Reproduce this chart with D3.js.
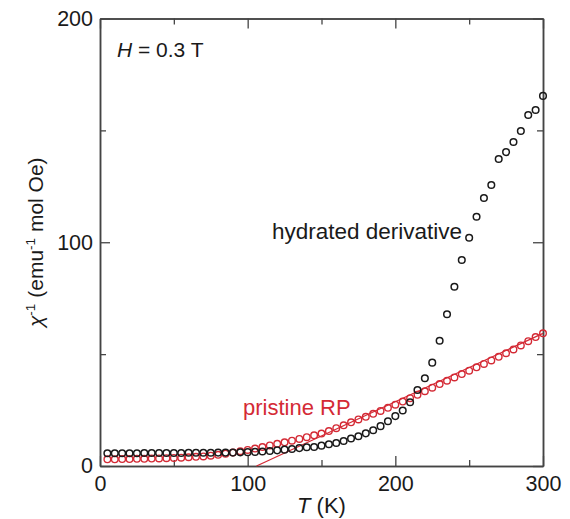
<!DOCTYPE html>
<html><head><meta charset="utf-8">
<script src="https://cdn.jsdelivr.net/npm/d3@7"></script>
<style>
html,body{margin:0;padding:0;background:#fff;}
svg{display:block;font-family:"Liberation Sans",Arial,sans-serif;}
</style></head>
<body><svg id="c" width="570" height="519"></svg>
<script>
// Temperatures (K)
const temps = d3.range(5, 301, 5);
// hydrated derivative chi^-1
const hydrated = [5.7,5.7,5.7,5.7,5.7,5.8,5.8,5.8,5.8,5.8,5.8,5.9,5.9,5.9,5.9,6.0,6.0,6.0,6.1,
  6.2,6.3,6.5,6.7,7.0,7.3,7.6,8.0,8.4,8.5,9.1,9.7,10.3,11.2,12.3,13.3,14.6,16.0,17.8,20.0,22.3,
  24.8,28.5,34.0,39.2,46.2,56.0,67.8,80.1,92.1,102.0,111.4,119.8,125.6,137.2,140.3,144.8,149.7,156.9,159.1,165.4];
// pristine RP chi^-1
const pristine = [3.0,3.0,3.1,3.1,3.2,3.2,3.3,3.4,3.5,3.6,3.7,3.9,4.1,4.3,4.6,5.0,5.5,6.0,6.6,
  7.2,7.8,8.5,9.2,9.9,10.6,11.3,12.1,12.9,13.7,14.5,15.6,16.9,18.2,19.5,20.8,22.0,23.3,24.6,26.0,27.4,
  28.8,30.3,31.8,33.4,35.0,36.6,38.1,39.6,41.1,42.6,44.1,45.6,47.2,48.8,50.4,52.1,53.9,55.8,57.6,59.3];
// Curie-Weiss fit line endpoints
const fitT = [106, 300];
const fitV = [0, 59.3];
const xMajor = [0, 100, 200, 300];
const xMinor = [50, 150, 250];
const yMajor = [0, 100, 200];
const yMinor = [50, 150];

const red = "#d42a35", ink = "#1a1a1a", frame = "#444";
const L = 100, R = 543, T = 18.5, B = 466;
const svg = d3.select("#c");
const x = d3.scaleLinear().domain([0, 300]).range([L, R]);
const y = d3.scaleLinear().domain([0, 200]).range([B, T]);

function styleAxis(g){
  g.select(".domain").attr("stroke", frame).attr("stroke-width", 1.5);
  g.selectAll(".tick line").attr("stroke", frame).attr("stroke-width", 1.3);
  g.selectAll("text").attr("font-size", 21.5).attr("fill", ink).attr("font-family", "Liberation Sans, Arial, sans-serif");
}
// bottom
svg.append("g").attr("transform", `translate(0,${B})`)
  .call(d3.axisBottom(x).tickValues(xMajor).tickSize(-10).tickSizeOuter(0).tickPadding(10).tickFormat(d3.format("d"))).call(styleAxis);
svg.append("g").attr("transform", `translate(0,${B})`)
  .call(d3.axisBottom(x).tickValues(xMinor).tickSize(-6).tickSizeOuter(0).tickFormat("")).call(styleAxis);
// top
svg.append("g").attr("transform", `translate(0,${T})`)
  .call(d3.axisTop(x).tickValues(xMajor).tickSize(-10).tickSizeOuter(0).tickFormat("")).call(styleAxis);
svg.append("g").attr("transform", `translate(0,${T})`)
  .call(d3.axisTop(x).tickValues(xMinor).tickSize(-6).tickSizeOuter(0).tickFormat("")).call(styleAxis);
// left
svg.append("g").attr("transform", `translate(${L},0)`)
  .call(d3.axisLeft(y).tickValues(yMajor).tickSize(-10).tickSizeOuter(0).tickPadding(7).tickFormat(d3.format("d"))).call(styleAxis);
svg.append("g").attr("transform", `translate(${L},0)`)
  .call(d3.axisLeft(y).tickValues(yMinor).tickSize(-6).tickSizeOuter(0).tickFormat("")).call(styleAxis);
// right
svg.append("g").attr("transform", `translate(${R},0)`)
  .call(d3.axisRight(y).tickValues(yMajor).tickSize(-10).tickSizeOuter(0).tickFormat("")).call(styleAxis);
svg.append("g").attr("transform", `translate(${R},0)`)
  .call(d3.axisRight(y).tickValues(yMinor).tickSize(-6).tickSizeOuter(0).tickFormat("")).call(styleAxis);

// fit line
svg.append("path")
  .datum(fitT.map((t, i) => [t, fitV[i]]))
  .attr("d", d3.line().x(d => x(d[0])).y(d => y(d[1])))
  .attr("stroke", red).attr("stroke-width", 1.3).attr("fill", "none");

// pristine circles
svg.append("g").selectAll("circle").data(temps.map((t, i) => [t, pristine[i]])).join("circle")
  .attr("cx", d => x(d[0])).attr("cy", d => y(d[1])).attr("r", 3.3)
  .attr("fill", "none").attr("stroke", red).attr("stroke-width", 1.4);
// hydrated circles
svg.append("g").selectAll("circle").data(temps.map((t, i) => [t, hydrated[i]])).join("circle")
  .attr("cx", d => x(d[0])).attr("cy", d => y(d[1])).attr("r", 3.3)
  .attr("fill", "none").attr("stroke", ink).attr("stroke-width", 1.5);

// texts
const hText = svg.append("text").attr("x", 117).attr("y", 57).attr("font-size", 21).attr("fill", ink);
hText.append("tspan").attr("font-style", "italic").text("H");
hText.append("tspan").text(" = 0.3 T");

svg.append("text").attr("x", 272).attr("y", 239).attr("font-size", 22.5).attr("fill", ink).text("hydrated derivative");
svg.append("text").attr("x", 243).attr("y", 415).attr("font-size", 22).attr("fill", red).text("pristine RP");

const xl = svg.append("text").attr("x", (L + R) / 2).attr("y", 513).attr("text-anchor", "middle").attr("font-size", 22).attr("fill", ink);
xl.append("tspan").attr("font-style", "italic").text("T");
xl.append("tspan").text(" (K)");

const yl = svg.append("text").attr("transform", `translate(43,${(T + B) / 2}) rotate(-90)`)
  .attr("text-anchor", "middle").attr("font-size", 21).attr("fill", ink);
yl.append("tspan").attr("font-style", "italic").text("χ");
yl.append("tspan").attr("font-size", 13.5).attr("dy", -8).text("-1");
yl.append("tspan").attr("dy", 8).text(" (emu");
yl.append("tspan").attr("font-size", 13.5).attr("dy", -8).text("-1");
yl.append("tspan").attr("dy", 8).text(" mol Oe)");
</script></body></html>
